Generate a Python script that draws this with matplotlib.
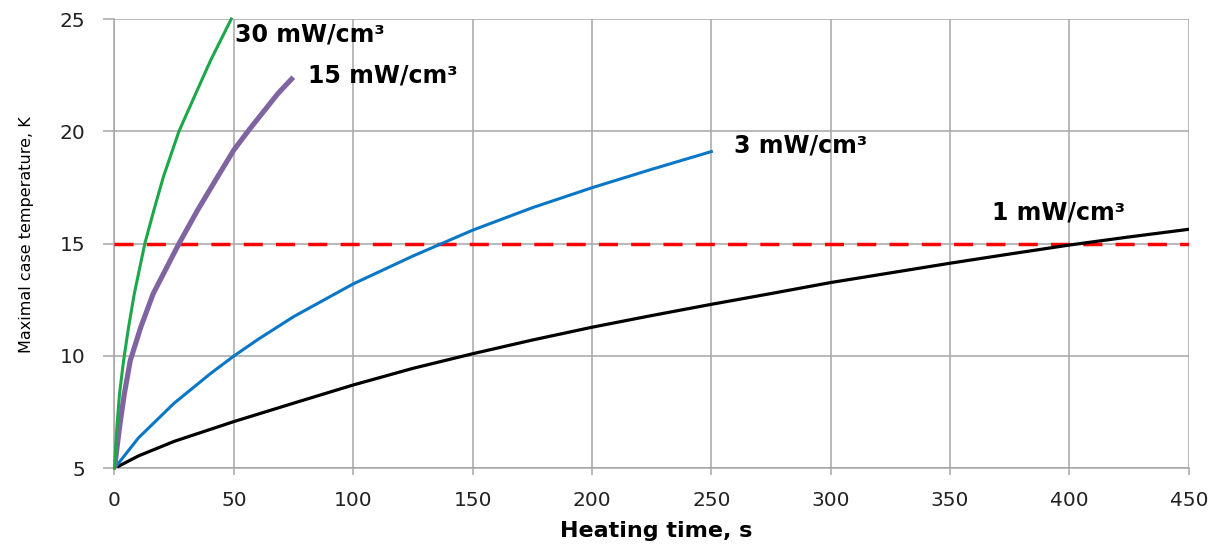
import numpy as np
import matplotlib.pyplot as plt

plt.rcParams['font.family'] = ['DejaVu Sans']

# readings from the chart (heating time, s / max temperature, K)
t_1 = [0, 10, 25, 50, 75, 100, 125, 150, 175, 200, 225, 250, 275, 300, 325, 350, 375, 400, 425, 450]
T_1 = [5, 5.55, 6.2, 7.08, 7.9, 8.71, 9.45, 10.1, 10.71, 11.28, 11.8, 12.3, 12.78, 13.27,
       13.7, 14.13, 14.54, 14.94, 15.3, 15.64]

t_3 = [0, 10, 25, 40, 50, 60, 75, 100, 125, 150, 175, 200, 225, 250]
T_3 = [5, 6.35, 7.9, 9.2, 10.0, 10.73, 11.75, 13.21, 14.45, 15.6, 16.6, 17.49, 18.31, 19.1]

t_15 = [0, 2.1, 4.1, 6.6, 11.0, 16.2, 27.0, 34.8, 43.2, 50.0, 56.6, 68.6, 74.9]
T_15 = [5, 6.82, 8.3, 9.79, 11.28, 12.77, 15.0, 16.49, 17.98, 19.17, 20.1, 21.7, 22.41]

t_30 = [0, 1.0, 2.1, 3.8, 5.9, 8.3, 12.7, 16.5, 20.5, 27.0, 34.1, 40.4, 48.9]
T_30 = [5, 6.82, 8.3, 9.79, 11.28, 12.77, 15.0, 16.49, 17.98, 20.0, 21.7, 23.19, 25.0]

limit_t = [0, 450]
limit_T = [15, 15]

labels = ['30 mW/cm³', '15 mW/cm³', '3 mW/cm³', '1 mW/cm³']
label_pos = [(50.3, 24.3), (80.9, 22.5), (259.3, 19.35), (367.4, 16.37)]

fig = plt.figure(figsize=(12.14, 5.45), dpi=100)
ax = fig.add_axes([0.0943, 0.1407, 0.885, 0.8244])

ax.plot(limit_t, limit_T, color='#FF0000', lw=2.5, dashes=(5.5, 3.8), zorder=3)
ax.plot(t_1, T_1, color='black', lw=2.3, zorder=4)
ax.plot(t_3, T_3, color='#0A76C6', lw=2.2, zorder=4)
ax.plot(t_15, T_15, color='#8064A2', lw=3.7, zorder=4, solid_capstyle='butt')
ax.plot(t_30, T_30, color='#1BA84A', lw=2.2, zorder=5, clip_on=False)

for lab, (x, y) in zip(labels, label_pos):
    ax.text(x, y, lab, fontsize=17, fontweight='bold', va='center', ha='left')

ax.set_xlim(0, 450)
ax.set_ylim(5, 25)
ax.set_xticks(np.arange(0, 451, 50))
ax.set_yticks(np.arange(5, 26, 5))
ax.grid(True, color='#A6A6A6', lw=1.1)
ax.set_axisbelow(True)
for s in ax.spines.values():
    s.set_color('#A6A6A6')
    s.set_linewidth(1.1)
ax.spines['top'].set_visible(False)
ax.spines['right'].set_visible(False)
ax.tick_params(colors='#A6A6A6', labelcolor='#222222', labelsize=14.5, width=1.1)
ax.tick_params(axis='x', length=5, pad=11)
ax.tick_params(axis='y', length=8, pad=13)

fig.text(656 / 1214, 1 - 531 / 545, 'Heating time, s', fontsize=16, fontweight='bold',
         ha='center', va='center')
fig.text(26 / 1214, 1 - 235 / 545, 'Maximal case temperature, K', fontsize=11.5,
         rotation=90, ha='center', va='center')

fig.savefig('out.png', dpi=100)
